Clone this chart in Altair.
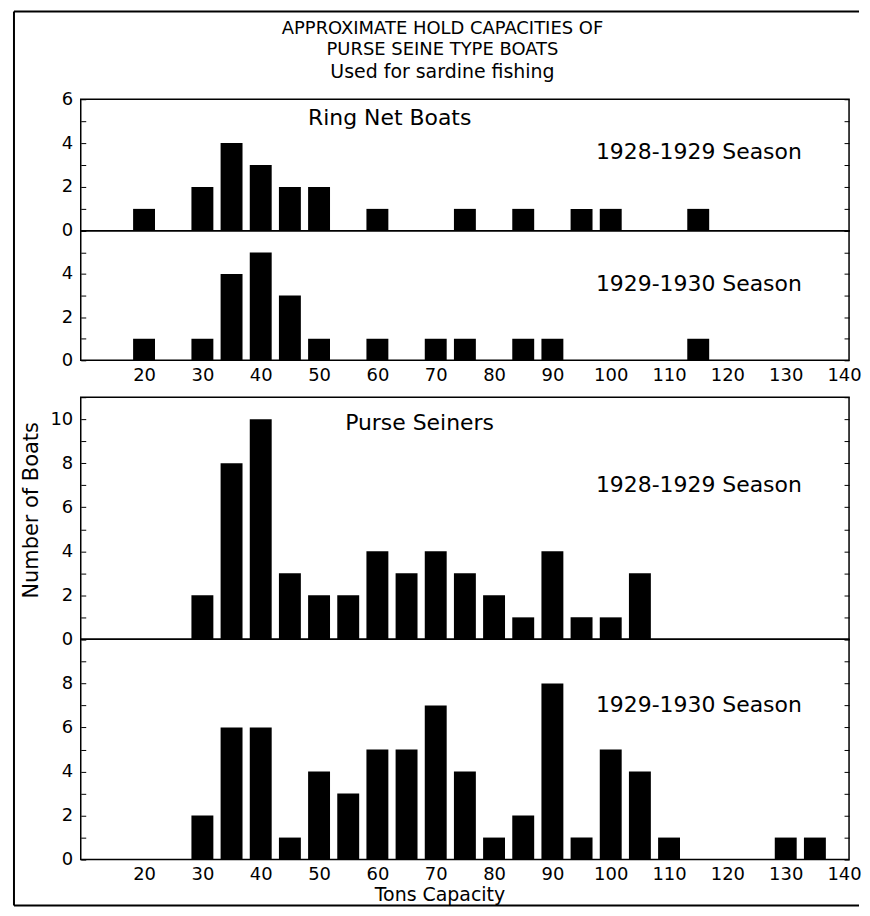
import altair as alt
import pandas as pd

# ---- text ----
title_lines = ["APPROXIMATE HOLD CAPACITIES OF", "PURSE SEINE TYPE BOATS", "Used for sardine fishing"]
x_title = "Tons Capacity"
y_title = "Number of Boats"
group_ring = "Ring Net Boats"
group_purse = "Purse Seiners"
season_a = "1928-1929 Season"
season_b = "1929-1930 Season"
x_ticks = [20, 30, 40, 50, 60, 70, 80, 90, 100, 110, 120, 130, 140]

# ---- data (tons capacity class, number of boats) ----
ring_2829_cap = [20, 30, 35, 40, 45, 50, 60, 75, 85, 95, 100, 115]
ring_2829_n = [1, 2, 4, 3, 2, 2, 1, 1, 1, 1, 1, 1]

ring_2930_cap = [20, 30, 35, 40, 45, 50, 60, 70, 75, 85, 90, 115]
ring_2930_n = [1, 1, 4, 5, 3, 1, 1, 1, 1, 1, 1, 1]

purse_2829_cap = [30, 35, 40, 45, 50, 55, 60, 65, 70, 75, 80, 85, 90, 95, 100, 105]
purse_2829_n = [2, 8, 10, 3, 2, 2, 4, 3, 4, 3, 2, 1, 4, 1, 1, 3]

purse_2930_cap = [30, 35, 40, 45, 50, 55, 60, 65, 70, 75, 80, 85, 90, 95, 100, 105, 110, 130, 135]
purse_2930_n = [2, 6, 6, 1, 4, 3, 5, 5, 7, 4, 1, 2, 8, 1, 5, 4, 1, 1, 1]

FONT = "DejaVu Sans"
W = 771
ONE = pd.DataFrame({"a": [0]})


def label_chart(text, px, py, align, size=22):
    return alt.Chart(pd.DataFrame({"t": [text]})).mark_text(
        align=align, baseline="middle", font=FONT, fontSize=size, color="black"
    ).encode(x=alt.value(px), y=alt.value(py), text="t:N")


def hline(x1, x2, y):
    return alt.Chart(ONE).mark_rule(color="black", strokeWidth=2).encode(
        x=alt.value(x1), x2=alt.value(x2), y=alt.value(y))


def vline(x, y1, y2):
    return alt.Chart(ONE).mark_rule(color="black", strokeWidth=2).encode(
        x=alt.value(x), y=alt.value(y1), y2=alt.value(y2))


def panel(caps, counts, ymax, height, max_label, show_x, texts, ytitle=False, xtitle=False):
    df = pd.DataFrame({"cap": caps, "n": counts})
    xscale = alt.Scale(domain=[10, 140], nice=False, zero=False)
    yscale = alt.Scale(domain=[0, ymax], nice=False, zero=True)
    tick_vals = list(range(0, int(ymax) + 1))

    if show_x:
        xa = dict(values=x_ticks, tickSize=0, labelPadding=6, labelFontSize=18,
                  labelFont=FONT, labelColor="black", domain=False, grid=False,
                  labelFlush=True, labelFlushOffset=6)
        if xtitle:
            xa.update(title=x_title, titleFont=FONT, titleFontSize=19,
                      titleFontWeight="normal", titleColor="black", titlePadding=2,
                      titleX=360, titleAlign="center")
        else:
            xa.update(title=None)
        xenc = alt.X("cap:Q", scale=xscale, axis=alt.Axis(**xa))
    else:
        xenc = alt.X("cap:Q", scale=xscale, axis=None)

    ya = dict(values=tick_vals, orient="left", offset=-5, tickSize=5, tickColor="black",
              tickWidth=1, labelPadding=8, labelFontSize=18, labelFont=FONT,
              labelColor="black", domain=False, grid=False,
              labelExpr=f"(datum.value % 2 == 0 && datum.value <= {max_label}) ? datum.label : ''")
    if ytitle:
        ya.update(title=y_title, titleFont=FONT, titleFontSize=21, titleFontWeight="normal",
                  titleColor="black", titlePadding=8, titleY=113)
    else:
        ya.update(title=None)

    bars = alt.Chart(df).mark_bar(color="black", width=22).encode(
        x=xenc,
        y=alt.Y("n:Q", scale=yscale, axis=alt.Axis(**ya)),
    )
    right = alt.Chart(df).mark_point(opacity=0).encode(
        y=alt.Y("n:Q", scale=yscale, axis=alt.Axis(
            values=tick_vals, orient="right", offset=-5, tickSize=5, tickColor="black",
            tickWidth=1, labels=False, domain=False, grid=False, title=None)),
    )
    layers = [bars, right] + texts
    return alt.layer(*layers).resolve_axis(y="independent").properties(width=W, height=height)


# title lines and outer frame are drawn inside the first panel (coords relative to its plot origin)
top_extras = [
    label_chart(title_lines[0], 363, -70, "center", 18),
    label_chart(title_lines[1], 363, -49, "center", 18),
    label_chart(title_lines[2], 363, -27, "center", 19),
    vline(-67, -88, 809),
    hline(-67, 781, -88),
    hline(-67, 781, 809),
]

p1 = panel(ring_2829_cap, ring_2829_n, 6, 132, 6, False,
           [label_chart(group_ring, 310, 19, "center"), label_chart(season_a, 517, 53, "left")] + top_extras)
p2 = panel(ring_2930_cap, ring_2930_n, 6, 130, 5, True,
           [label_chart(season_b, 517, 53, "left")])
spacer = alt.Chart(ONE).mark_point(opacity=0).properties(
    width=W, height=37, view=alt.ViewBackground(stroke="transparent"))
p3 = panel(purse_2829_cap, purse_2829_n, 11, 243, 10, False,
           [label_chart(group_purse, 340, 26, "center"), label_chart(season_a, 517, 88, "left")],
           ytitle=True)
p4 = panel(purse_2930_cap, purse_2930_n, 10, 221, 9, True,
           [label_chart(season_b, 517, 66, "left")], xtitle=True)

chart = alt.vconcat(p1, p2, spacer, p3, p4, spacing=0, bounds="flush").properties(
    padding={"top": 0, "left": 4, "right": 0, "bottom": 0},
    background="white",
).configure_view(stroke="black", strokeWidth=1.5)

chart.save("out.html", embed_options={"renderer": "svg", "actions": False})
